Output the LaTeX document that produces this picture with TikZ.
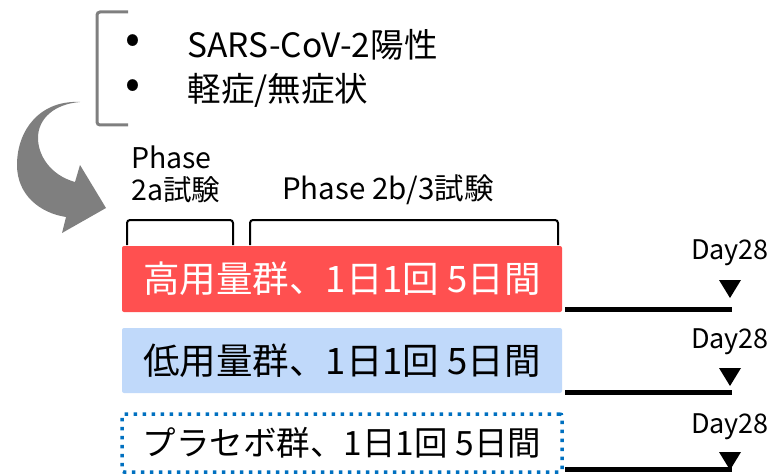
\documentclass[tikz,border=0pt]{standalone}
\usepackage{fontspec}
\setmainfont{Noto Sans CJK JP}
\usetikzlibrary{positioning}
\definecolor{hired}{HTML}{FF5050}
\definecolor{loblue}{HTML}{C0D9FA}
\definecolor{pldot}{HTML}{0070C0}
\definecolor{arrgray}{HTML}{7F7F7F}
\tikzset{
  groupbox/.style={minimum width=440pt, inner sep=0pt, rounded corners=2pt, font=\fontsize{36.5}{40}\selectfont},
  phasebrace/.style={draw=black, line width=2pt, rounded corners=3pt},
  dayline/.style={line width=5pt},
  daylabel/.style={font=\fontsize{27}{30}\selectfont, inner sep=0pt},
}

\begin{document}
\begin{tikzpicture}[x=1pt,y=-1pt]
  \useasboundingbox (0,0) rectangle (773,476);

  % criteria
  \draw[arrgray, line width=3pt, rounded corners=3pt] (128,12) -- (97,12) -- (97,125) -- (128,125);
  \node (b1) at (133,44) {\fontsize{44}{44}\selectfont •};
  \node (b2) at (133,89) {\fontsize{44}{44}\selectfont •};
  \node[anchor=west, font=\fontsize{33.5}{36}\selectfont] (crit1) at (184,45) {SARS-CoV-2陽性};
  \node[anchor=west, font=\fontsize{33.5}{36}\selectfont] (crit2) at (184,90) {軽症/無症状};

  % curved arrow
  \fill[arrgray] (80,102) .. controls (40,100) and (17,130) .. (17,165)
      .. controls (17,195) and (40,213) .. (66,217)
      -- (62,233) -- (106,208) -- (80,165) -- (75,182)
      .. controls (50,175) and (38,155) .. (38,138)
      .. controls (38,118) and (55,104) .. (80,102) -- cycle;

  % phases
  \node[anchor=west, align=left, inner sep=0pt, font=\fontsize{28.5}{32}\selectfont] (ph2a) at (131,174) {Phase\\2a試験};
  \node[anchor=west, inner sep=0pt, font=\fontsize{29.5}{32}\selectfont] (ph2b) at (282,190) {Phase 2b/3試験};
  \draw[phasebrace] (127,245) -- (127,220) -- (233,220) -- (233,245);
  \draw[phasebrace] (250,245) -- (250,220) -- (558,220) -- (558,245);

  % groups
  \node[groupbox, fill=hired, text=white, minimum height=66pt] (hi) at (342,279) {高用量群、1日1回 5日間};
  \node[groupbox, fill=loblue, minimum height=65pt] (lo) at (342,360.5) {低用量群、1日1回 5日間};
  \node[groupbox, draw=pldot, line width=3.5pt, dash pattern=on 3.5pt off 5.5pt, minimum height=58pt,
        font=\fontsize{33.5}{40}\selectfont] (pl) at (342,443) {プラセボ群、1日1回 5日間};

  % follow-up to day 28
  \foreach \n/\ly/\ty/\dy in {hi/309/298/253, lo/392/386/342, pl/469/470/427} {
    \coordinate (\n0) at (565,\ly);
    \coordinate (\n28) at (732,\ly);
    \coordinate (\n tip) at (730,\ty);
    \draw[dayline] (\n0) -- (\n28);
    \fill (\n tip) -- ++(-11,-18) -- ++(22,0) -- cycle;
    \node[daylabel] (\n day) at (730,\dy) {Day28};
  }
\end{tikzpicture}
\end{document}
